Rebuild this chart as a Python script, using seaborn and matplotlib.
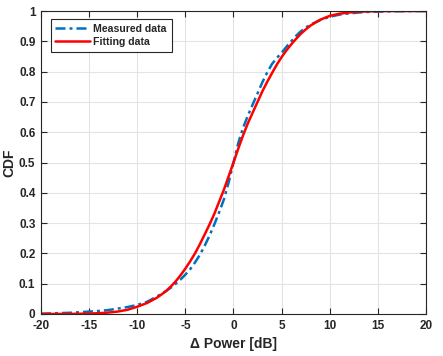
import numpy as np
import pandas as pd
import matplotlib
matplotlib.use("Agg")
import matplotlib.pyplot as plt
import seaborn as sns
from matplotlib.ticker import FixedLocator, FuncFormatter

# ---- data ----
delta_power = [-20, -19, -18, -17, -16, -15, -14, -13, -12, -11, -10, -9, -8, -7.5, -7,
               -6.5, -6, -5.5, -5, -4.5, -4, -3.5, -3, -2.5, -2, -1.5, -1, -0.5, 0,
               0.5, 1, 1.5, 2, 2.5, 3, 3.5, 4, 4.5, 5, 5.5, 6, 6.5, 7, 7.5, 8, 9, 10,
               11, 12, 13, 14, 15, 16, 17, 18, 19, 20]
measured_cdf = [0.001, 0.002, 0.003, 0.004, 0.006, 0.008, 0.010, 0.013, 0.018, 0.023,
                0.030, 0.040, 0.057, 0.066, 0.076, 0.087, 0.100, 0.114, 0.130, 0.148,
                0.170, 0.195, 0.225, 0.258, 0.295, 0.335, 0.378, 0.435, 0.500, 0.565,
                0.615, 0.655, 0.692, 0.728, 0.765, 0.797, 0.825, 0.845, 0.862, 0.882,
                0.900, 0.918, 0.933, 0.945, 0.955, 0.970, 0.981, 0.988, 0.992, 0.995,
                0.997, 0.998, 0.999, 0.9993, 0.9996, 0.9998, 1.000]
fitting_cdf = [0.0000, 0.0001, 0.0002, 0.0004, 0.0008, 0.0014, 0.0026, 0.0047, 0.0082,
               0.014, 0.024, 0.036, 0.053, 0.064, 0.076, 0.091, 0.108, 0.128, 0.150,
               0.174, 0.200, 0.230, 0.262, 0.295, 0.330, 0.370, 0.410, 0.455, 0.500,
               0.546, 0.590, 0.630, 0.665, 0.700, 0.735, 0.766, 0.795, 0.823, 0.848,
               0.870, 0.890, 0.908, 0.925, 0.939, 0.952, 0.971, 0.984, 0.991, 0.995,
               0.9975, 0.9988, 0.9995, 0.9998, 1.0, 1.0, 1.0, 1.0]
series_labels = ["Measured data", "Fitting data"]
x_ticks = [-20, -15, -10, -5, 0, 5, 10, 15, 20]
y_ticks = [0, 0.1, 0.2, 0.3, 0.4, 0.5, 0.6, 0.7, 0.8, 0.9, 1]
x_label = "\u0394 Power [dB]"
y_label = "CDF"

df_meas = pd.DataFrame({"x": delta_power, "y": measured_cdf})
df_fit = pd.DataFrame({"x": delta_power, "y": fitting_cdf})

sns.set_style("ticks")
plt.rcParams["font.family"] = ["Liberation Sans", "DejaVu Sans"]
plt.rcParams["font.weight"] = "bold"

fig = plt.figure(figsize=(4.43, 3.56), dpi=100)
ax = fig.add_axes([41 / 443, 1 - 314 / 356, 385 / 443, 303 / 356])

sns.lineplot(data=df_meas, x="x", y="y", ax=ax, color="#0072BD", linewidth=1.8,
             label=series_labels[0])
sns.lineplot(data=df_fit, x="x", y="y", ax=ax, color="#FF0000", linewidth=1.8,
             label=series_labels[1])
ax.lines[0].set_dashes([4.0, 1.6, 1.2, 1.6])

ax.set_xlim(-20, 20)
ax.set_ylim(0, 1)
ax.xaxis.set_major_locator(FixedLocator(x_ticks))
ax.yaxis.set_major_locator(FixedLocator(y_ticks))
fmt = FuncFormatter(lambda v, p: "%g" % round(v, 2))
ax.xaxis.set_major_formatter(fmt)
ax.yaxis.set_major_formatter(fmt)

ax.grid(True, color="#e3e3e3", linewidth=0.8)
ax.set_axisbelow(True)
for s in ax.spines.values():
    s.set_visible(True)
    s.set_color("#262626")
    s.set_linewidth(0.8)

ax.tick_params(direction="in", length=4, width=0.8, top=True, right=True,
               labelsize=8.5, colors="#262626", pad=4)
for lab in ax.get_xticklabels() + ax.get_yticklabels():
    lab.set_fontweight("bold")

ax.set_xlabel(x_label, fontsize=10, fontweight="bold", labelpad=4)
ax.set_ylabel(y_label, fontsize=10, fontweight="bold", labelpad=2)

leg = ax.legend(loc="upper left", bbox_to_anchor=(0.025, 0.974), borderaxespad=0,
                frameon=True, fancybox=False, edgecolor="#262626", framealpha=1,
                prop={"size": 7.6, "weight": "bold"}, handlelength=3.3,
                handletextpad=0.3, borderpad=0.45, labelspacing=0.32)
leg.get_frame().set_linewidth(0.8)

fig.savefig("out.png", dpi=100)
